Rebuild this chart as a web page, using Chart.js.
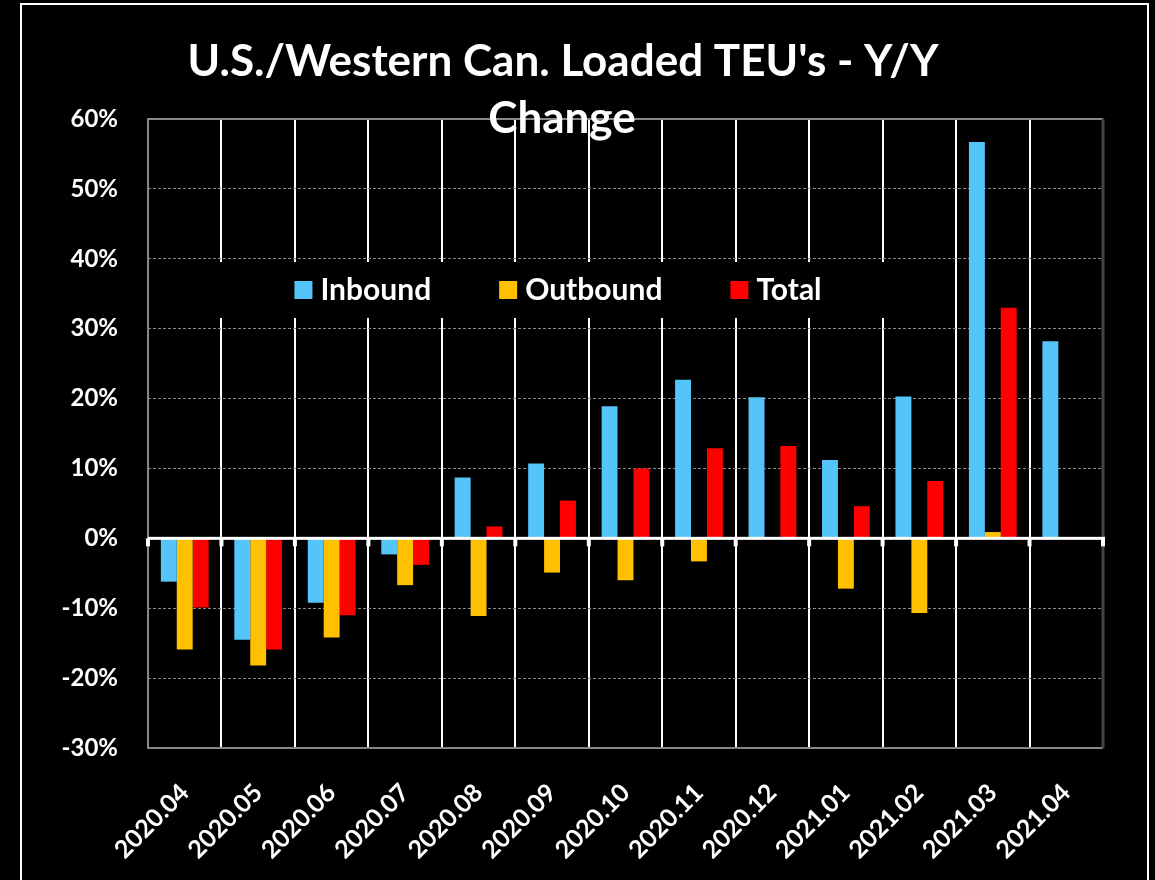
<!DOCTYPE html>
<html>
<head>
<meta charset="utf-8">
<script src="https://cdn.jsdelivr.net/npm/chart.js@4"></script>
<style>
  html, body { margin: 0; padding: 0; background: #000; }
  #wrap { width: 1155px; height: 880px; position: relative; }
</style>
</head>
<body>
<div id="wrap"><canvas id="teu_chart"></canvas></div>
<script>
const months = ['2020.04', '2020.05', '2020.06', '2020.07', '2020.08', '2020.09', '2020.10',
                '2020.11', '2020.12', '2021.01', '2021.02', '2021.03', '2021.04'];
const inbound  = [-6.2, -14.5, -9.2, -2.3, 8.7, 10.7, 18.9, 22.7, 20.2, 11.2, 20.3, 56.7, 28.2];
const outbound = [-15.9, -18.2, -14.2, -6.7, -11.1, -4.9, -6.0, -3.3, 0, -7.2, -10.7, 0.9, null];
const total    = [-9.9, -15.9, -11.0, -3.8, 1.7, 5.4, 10.0, 12.9, 13.2, 4.6, 8.2, 33.0, null];
const y_ticks = [-30, -20, -10, 0, 10, 20, 30, 40, 50, 60];

const title_lines = ["U.S./Western Can. Loaded TEU's - Y/Y", 'Change'];
const font_family = 'Lato, "Open Sans", sans-serif';

// excel-ish frame: zero axis, plot border, legend inside the plot, title over it
const frame_plugin = {
  id: 'frame',
  afterDatasetsDraw(chart) {
    const ctx = chart.ctx;
    const a = chart.chartArea;
    const y0 = chart.scales.y.getPixelForValue(0);
    ctx.save();

    // plot border
    ctx.strokeStyle = '#888';
    ctx.lineWidth = 2;
    ctx.beginPath();
    ctx.moveTo(a.right, a.top); ctx.lineTo(a.left, a.top);
    ctx.lineTo(a.left, a.bottom); ctx.lineTo(a.right, a.bottom);
    ctx.stroke();
    ctx.strokeStyle = '#444';
    ctx.lineWidth = 3;
    ctx.beginPath();
    ctx.moveTo(a.right, a.top); ctx.lineTo(a.right, a.bottom);
    ctx.stroke();

    // zero axis with tick marks at category boundaries
    ctx.fillStyle = '#fff';
    ctx.fillRect(a.left, y0 - 1.5, a.right - a.left + 2, 3);
    const step = (a.right - a.left) / months.length;
    for (let i = 0; i <= months.length; i++) {
      const x = a.left + i * step;
      ctx.fillRect(x - 2, y0, 4, 8);
    }

    // legend box
    ctx.fillStyle = '#000';
    ctx.fillRect(a.left + 3, 262, 750, 56);
    ctx.font = 'bold 30px ' + font_family;
    ctx.textBaseline = 'middle';
    const items = chart.data.datasets.map(d => ({label: d.label, color: d.backgroundColor}));
    const gap = 68, box = 18, pad = 8;
    let widths = items.map(it => box + pad + ctx.measureText(it.label).width);
    let full = widths.reduce((s, w) => s + w, 0) + gap * (items.length - 1);
    let x = 558 - full / 2;
    items.forEach((it, i) => {
      ctx.fillStyle = it.color;
      ctx.fillRect(x, 281, box, box);
      ctx.fillStyle = '#fff';
      ctx.textAlign = 'left';
      ctx.fillText(it.label, x + box + pad, 290);
      x += widths[i] + gap;
    });
    ctx.restore();
  },
  afterDraw(chart) {
    const ctx = chart.ctx;
    ctx.save();
    // outer frame
    ctx.strokeStyle = '#fff';
    ctx.lineWidth = 2;
    ctx.strokeRect(21, 4, 1127, 900);
    // title
    ctx.fillStyle = '#fff';
    ctx.font = 'bold 44px ' + font_family;
    ctx.textAlign = 'center';
    ctx.textBaseline = 'alphabetic';
    ctx.fillText(title_lines[0], 563, 76);
    ctx.fillText(title_lines[1], 562, 133);
    ctx.restore();
  }
};

const teu_ctx = document.getElementById('teu_chart');

const teu_data = {
  labels: months,
  datasets: [
    { label: 'Inbound',  data: inbound,  backgroundColor: '#55C4F8' },
    { label: 'Outbound', data: outbound, backgroundColor: '#FFC000' },
    { label: 'Total',    data: total,    backgroundColor: '#FF0000' }
  ]
};

const teu_config = {
  type: 'bar',
  data: teu_data,
  options: {
    responsive: true,
    maintainAspectRatio: false,
    animation: false,
    layout: { padding: { top: 119, right: 52, left: 0, bottom: 0 } },
    datasets: { bar: { categoryPercentage: 0.65, barPercentage: 1.0 } },
    plugins: {
      legend: { display: false },
      title: { display: false },
      tooltip: { enabled: false }
    },
    scales: {
      x: {
        grid: { color: '#fff', lineWidth: 2, drawTicks: false, offset: true },
        border: { display: false },
        ticks: {
          color: '#fff',
          font: { family: font_family, size: 25, weight: 'bold' },
          minRotation: 45,
          maxRotation: 45,
          labelOffset: 0,
          padding: 30
        },
        afterFit(scale) { scale.height = 132; }
      },
      y: {
        min: -30,
        max: 60,
        afterBuildTicks(scale) { scale.ticks = y_ticks.map(v => ({ value: v })); },
        grid: { color: '#8a8a8a', lineWidth: 1, drawTicks: false },
        border: { display: false, dash: [3, 2] },
        ticks: {
          color: '#fff',
          font: { family: font_family, size: 24, weight: 'bold' },
          padding: 30,
          callback: v => v + '%'
        },
        afterFit(scale) { scale.width = 148; }
      }
    }
  },
  plugins: [frame_plugin]
};

const teu_chart = new Chart(teu_ctx, teu_config);
</script>
</body>
</html>
